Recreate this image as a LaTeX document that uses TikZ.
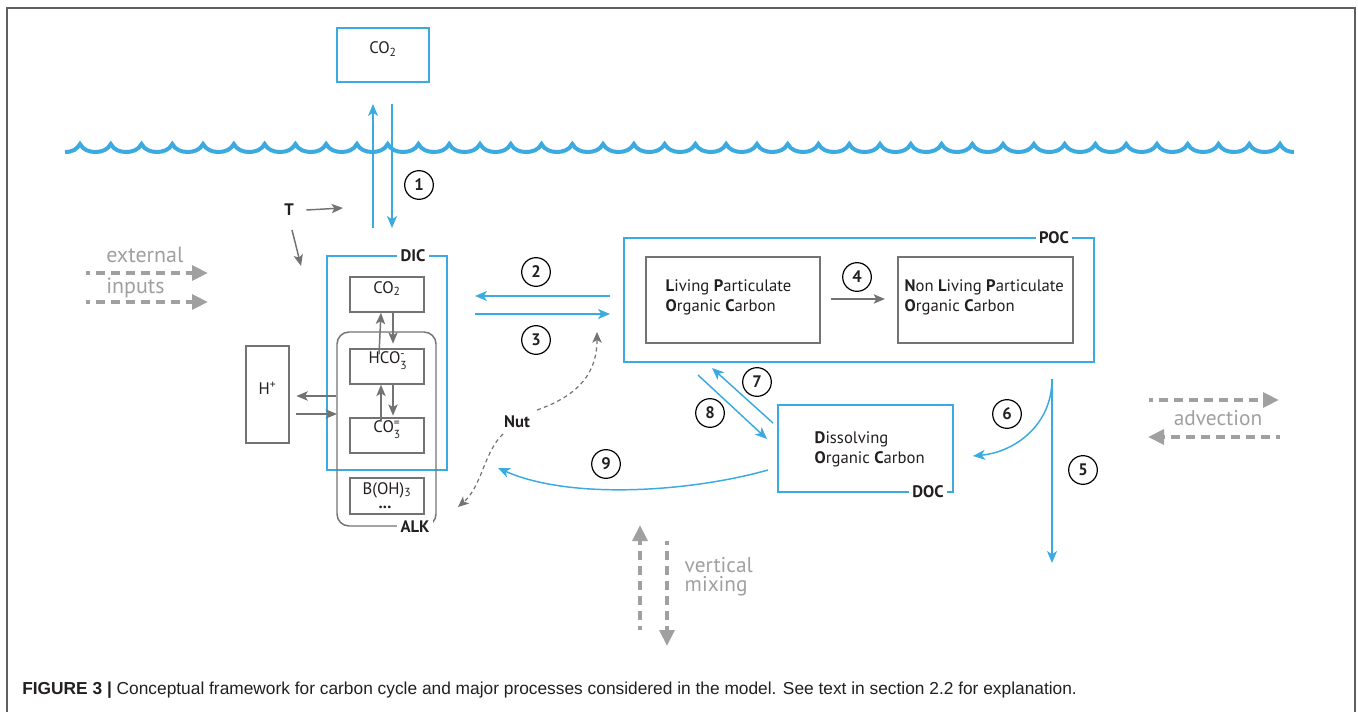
\documentclass[tikz,border=0pt]{standalone}
\usepackage{fontspec}
\setmainfont{PT Sans}
\newfontfamily\capfont{Liberation Sans}
\usetikzlibrary{arrows.meta,fit,calc}
\definecolor{oblue}{RGB}{58,170,225}
\definecolor{bgray}{RGB}{115,115,115}
\definecolor{lgray}{RGB}{160,160,160}
\definecolor{fgray}{RGB}{95,95,95}
\definecolor{txt}{RGB}{35,31,32}
\begin{document}
\begin{tikzpicture}[x=0.75pt,y=-0.75pt,
  boxfont/.style={font=\fontsize{12.5}{15}\selectfont},
  bbox/.style={draw=oblue, line width=1.1pt, inner sep=0pt, boxfont, text=txt},
  gbox/.style={draw=bgray, line width=1.1pt, inner sep=0pt, boxfont, text=txt},
  barrow/.style={draw=oblue, line width=1.1pt, -{Stealth[length=9pt,width=7.5pt,inset=2.5pt]}},
  garrow/.style={draw=bgray, line width=1.1pt, -{Stealth[length=8.5pt,width=7pt,inset=2pt]}},
  num/.style={circle, draw=black, line width=0.9pt, minimum size=21.5pt, inner sep=0pt, font=\bfseries\fontsize{12.5}{12}\selectfont, text=txt},
  tag/.style={fill=white, inner sep=2.5pt, font=\bfseries\fontsize{12.5}{14}\selectfont, text=txt},
  dasharrow/.style={draw=lgray, line width=3pt, dash pattern=on 6.75pt off 4.5pt, dash phase=3.75pt, -{Triangle[length=12pt,width=11pt]}},
  graytext/.style={text=lgray, font=\fontsize{16}{14.5}\selectfont},
  nutarrow/.style={draw=bgray, line width=0.9pt, dash pattern=on 3pt off 2.5pt, -{Stealth[length=8pt,width=7pt,inset=2pt]}},
  wave/.style={draw=oblue, line width=3pt}
]
\useasboundingbox (0,0) rectangle (1358,712);

% frame
\draw[fgray, line width=1.5pt] (7,712) -- (7,8) -- (1355,8) -- (1355,712);

% waves
\draw[wave] (65,152) .. controls (73,152) and (77,149) .. (80,144)
  \foreach \i in {1,...,39} { .. controls +(3,6) and +(-6,0) .. ++(15.385,8) .. controls +(6,0) and +(-3,6) .. ++(15.385,-8) }
  .. controls +(3,6) and +(-6,0) .. ++(14,8);

% atmospheric CO2
\node[bbox, fit={(337,28)(429,82)}] (co2a) {CO\textsubscript{2}};
\coordinate (f1a) at (373,228);
\coordinate (f1b) at (373,104);
\coordinate (f1c) at (392,104);
\coordinate (f1d) at (392,228);
\draw[barrow] (f1a) -- (f1b);
\draw[barrow] (f1c) -- (f1d);
\node[num] (n1) at (419,185) {1};

% T
\node[font=\bfseries\fontsize{12.5}{14}\selectfont, text=txt] (T) at (289,210) {T};
\coordinate (tA) at (343,208);
\coordinate (tB) at (301,266);
\draw[garrow] ([xshift=6pt]T.east) -- (tA);
\draw[garrow] (292,230) -- (tB);

% DIC and ALK
\node[bbox, fit={(327,256)(447,470)}] (dic) {};
\draw[bgray, line width=1.1pt, rounded corners=9pt] (337,332) rectangle (436,526);
\coordinate (alkw1) at (337,396);
\coordinate (alkw2) at (337,414);
\node[tag] (dict) at (413,256) {DIC};
\node[tag] (alkt) at (415,527) {ALK};

\node[gbox, fit={(350,277)(424,312)}] (co2i) {CO\textsubscript{2}};
\node[gbox, fit={(350,349)(424,384)}] (hco3) {HCO\rlap{\raisebox{-0.5ex}{\textsubscript{3}}}\textsuperscript{-}};
\node[gbox, fit={(350,418)(424,453)}] (co3) {CO\rlap{\raisebox{-0.5ex}{\textsubscript{3}}}\textsuperscript{=}};
\node[gbox, fit={(350,478)(424,514)}] (boh) {};
\node[boxfont, text=txt, inner sep=0pt, anchor=base] (boht) at (387,494) {B(OH)\textsubscript{3}};
\node[boxfont, text=txt, inner sep=0pt, anchor=base] (bohd) at (385,508) {\textbf{...}};

\draw[garrow] ([xshift=-6pt]hco3.north) ++(0,6) -- ([xshift=-4.5pt]co2i.south);
\draw[garrow] ([xshift=4.5pt]co2i.south) -- ++(0,31);
\draw[garrow] ([xshift=-4.5pt]co3.north) ++(0,3) -- ([xshift=-4.5pt]hco3.south);
\draw[garrow] ([xshift=4.5pt]hco3.south) -- ++(0,31);

\node[gbox, fit={(246,346)(289,443)}] (hp) {H\textsuperscript{+}};
\draw[garrow] ([xshift=-0.75pt]alkw1) -- ([xshift=5pt]hp.east |- alkw1);
\draw[garrow] ([xshift=5pt]hp.east |- alkw2) -- (alkw2);

% POC
\node[bbox, fit={(624,238)(1094,362)}] (poc) {};
\node[tag] (poct) at (1054,238) {POC};
\node[gbox, fit={(646,257)(820,343)}] (lpoc) {};
\node[gbox, fit={(898,257)(1073,343)}] (nlpoc) {};
\node[boxfont, anchor=west, align=left, text=txt] (lpoct) at (661,297) {\textbf{L}iving \textbf{P}articulate\\\textbf{O}rganic \textbf{C}arbon};
\node[boxfont, anchor=west, align=left, text=txt] (nlpoct) at (900,297) {\textbf{N}on \textbf{L}iving \textbf{P}articulate\\\textbf{O}rganic \textbf{C}arbon};
\draw[garrow] (831,299) -- (885,299);
\node[num] (n4) at (857,277) {4};

% DOC
\node[bbox, fit={(778,405)(953,492)}] (doc) {};
\node[tag] (doct) at (928,492) {DOC};
\node[boxfont, anchor=west, align=left, text=txt] (doctx) at (810,449) {\textbf{D}issolving\\\textbf{O}rganic \textbf{C}arbon};

% fluxes 2,3
\coordinate (a2s) at (610,296);
\coordinate (a2e) at (475,296);
\coordinate (a3s) at (475,314);
\coordinate (a3e) at (610,314);
\draw[barrow] (a2s) -- (a2e);
\draw[barrow] (a3s) -- (a3e);
\node[num] (n2) at (536,272) {2};
\node[num] (n3) at (536,340) {3};

% fluxes 7,8
\coordinate (a7s) at (773,423);
\coordinate (a7e) at (712,368);
\coordinate (a8s) at (698,375);
\coordinate (a8e) at (767,439);
\draw[barrow] (a7s) -- (a7e);
\draw[barrow] (a8s) -- (a8e);
\node[num] (n7) at (757,382) {7};
\node[num] (n8) at (710,413) {8};

% fluxes 5,6
\coordinate (a5s) at (1052,379);
\coordinate (a5e) at (1052,563);
\coordinate (a6e) at (973,456);
\draw[barrow] (a5s) -- (a5e);
\draw[barrow] (a5s) .. controls (1052,425) and (1015,452) .. (a6e);
\node[num] (n5) at (1083,470) {5};
\node[num] (n6) at (1007,414) {6};

% flux 9
\coordinate (a9s) at (768,470);
\coordinate (a9e) at (498,468);
\draw[barrow] (a9s) .. controls (690,492) and (570,500) .. (a9e);
\node[num] (n9) at (606,464) {9};

% Nut
\node[font=\bfseries\fontsize{12.5}{14}\selectfont, text=txt] (nut) at (517,422) {Nut};
\coordinate (nutA) at (597,332);
\coordinate (nutB) at (458,507);
\draw[nutarrow] (537,410) .. controls (580,395) and (597,372) .. (nutA);
\draw[nutarrow] (503,434) .. controls (484,452) and (482,486) .. (nutB);

% external inputs
\node[graytext, anchor=base west, inner sep=0pt, font=\fontsize{16.5}{14.5}\selectfont] (ext) at (106,263) {external};
\node[graytext, anchor=base west, inner sep=0pt, font=\fontsize{16.5}{14.5}\selectfont] (inp) at (106,294) {inputs};
\coordinate (e1s) at (86,273);
\coordinate (e1e) at (208,273);
\coordinate (e2s) at (86,302);
\coordinate (e2e) at (208,302);
\draw[dasharrow] (e1s) -- (e1e);
\draw[dasharrow] (e2s) -- (e2e);

% advection
\node[graytext, inner sep=0pt] (adv) at (1218,418) {advection};
\coordinate (v1s) at (1149,400);
\coordinate (v1e) at (1279,400);
\coordinate (v2s) at (1280,437);
\coordinate (v2e) at (1148,437);
\draw[dasharrow] (v1s) -- (v1e);
\draw[dasharrow] (v2s) -- (v2e);

% vertical mixing
\node[graytext, anchor=west, align=left] (vm) at (680,577) {vertical\\mixing};
\coordinate (m1s) at (640,630);
\coordinate (m1e) at (640,525);
\coordinate (m2s) at (667,541);
\coordinate (m2e) at (667,646);
\draw[dasharrow] (m1s) -- (m1e);
\draw[dasharrow] (m2s) -- (m2e);

% caption
\node[anchor=base west, inner sep=0pt, font=\capfont\fontsize{13}{15}\selectfont, text=txt] (cap) at (22,694)
  {\textbf{FIGURE 3 |} Conceptual framework for carbon cycle and major processes considered in the model. See text in section 2.2 for explanation.};
\end{tikzpicture}
\end{document}
